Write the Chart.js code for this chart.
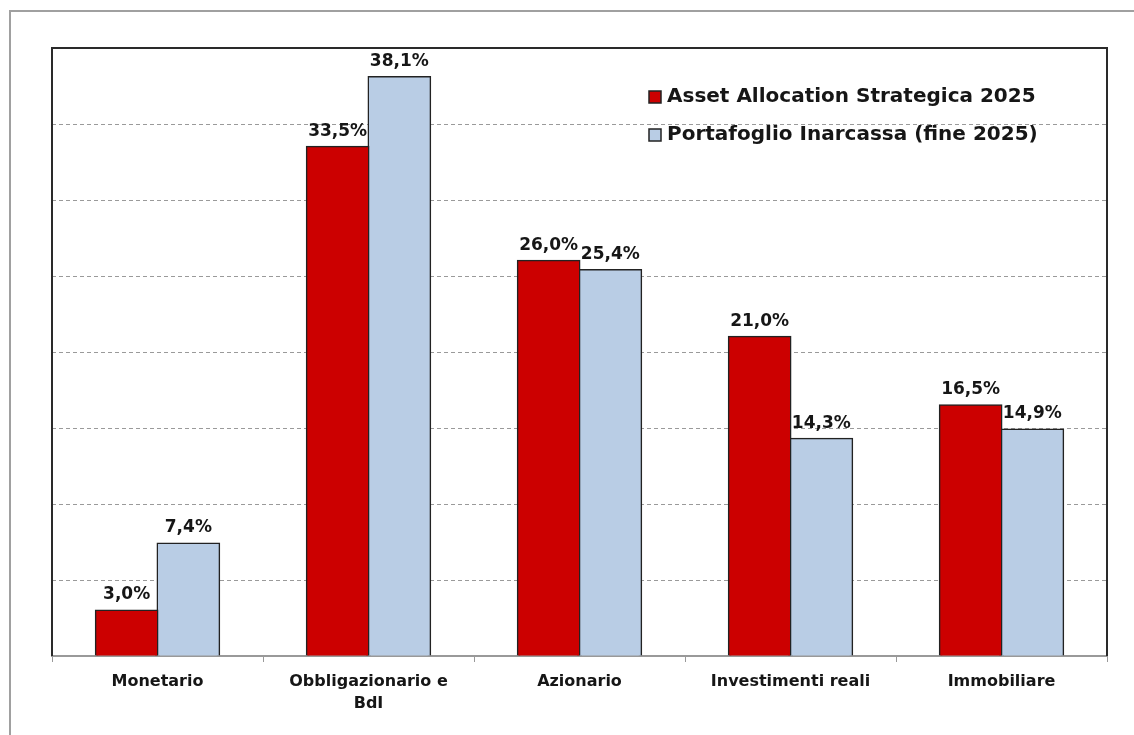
<!DOCTYPE html>
<html>
<head>
<meta charset="utf-8">
<script src="https://cdn.jsdelivr.net/npm/chart.js@4/dist/chart.umd.min.js"></script>
<style>
  html, body { margin: 0; padding: 0; background: #fff; overflow: hidden; }
  #wrap { position: relative; width: 1134px; height: 735px; }
  #frame { position: absolute; left: 9px; top: 10px; width: 1140px; height: 740px; border: 2px solid #a0a0a0; box-sizing: border-box; }
  #chart { position: absolute; left: 0; top: 0; }
</style>
</head>
<body>
<div id="wrap">
  <div id="frame"></div>
  <canvas id="chart" width="1134" height="735"></canvas>
</div>
<script>
const categories = ['Monetario', ['Obbligazionario e', 'BdI'], 'Azionario', 'Investimenti reali', 'Immobiliare'];
const strategica = [3.0, 33.5, 26.0, 21.0, 16.5];
const portafoglio = [7.4, 38.1, 25.4, 14.3, 14.9];
const seriesNames = ['Asset Allocation Strategica 2025', 'Portafoglio Inarcassa (fine 2025)'];
const yTicks = [0, 5, 10, 15, 20, 25, 30, 35, 40];

const FONT = '"DejaVu Sans", Verdana, sans-serif';
const TEXT = '#161616';

// data labels above each bar, comma decimal
const valueLabels = {
    id: 'valueLabels',
    afterDatasetsDraw(chart) {
        const ctx = chart.ctx;
        ctx.save();
        ctx.font = 'bold 17px ' + FONT;
        ctx.fillStyle = TEXT;
        ctx.textAlign = 'center';
        ctx.textBaseline = 'bottom';
        chart.data.datasets.forEach((ds, i) => {
            chart.getDatasetMeta(i).data.forEach((bar, j) => {
                const txt = ds.data[j].toFixed(1).replace('.', ',') + '%';
                ctx.fillText(txt, bar.x, bar.y - 7);
            });
        });
        ctx.restore();
    }
};

// black frame on top/left/right of plot area
const plotFrame = {
    id: 'plotFrame',
    afterDraw(chart) {
        const a = chart.chartArea;
        const ctx = chart.ctx;
        ctx.save();
        ctx.strokeStyle = '#2a2a2a';
        ctx.lineWidth = 2;
        ctx.beginPath();
        ctx.moveTo(a.left, a.bottom);
        ctx.lineTo(a.left, a.top);
        ctx.lineTo(a.right, a.top);
        ctx.lineTo(a.right, a.bottom);
        ctx.stroke();
        ctx.restore();
    }
};

// legend drawn inside the plot area, top right
const innerLegend = {
    id: 'innerLegend',
    afterDraw(chart) {
        const a = chart.chartArea;
        const ctx = chart.ctx;
        const x0 = a.right - 458;
        const rows = [a.top + 49, a.top + 87];
        ctx.save();
        ctx.font = 'bold 20px ' + FONT;
        ctx.textBaseline = 'middle';
        chart.data.datasets.forEach((ds, i) => {
            const y = rows[i];
            ctx.fillStyle = ds.backgroundColor;
            ctx.fillRect(x0, y - 6, 12, 12);
            ctx.strokeStyle = '#222';
            ctx.lineWidth = 1.5;
            ctx.strokeRect(x0, y - 6, 12, 12);
            ctx.fillStyle = TEXT;
            ctx.fillText(ds.label, x0 + 18, y);
        });
        ctx.restore();
    }
};

const ctx = document.getElementById('chart').getContext('2d');
new Chart(ctx, {
    type: 'bar',
    data: {
        labels: categories,
        datasets: [{
            label: seriesNames[0],
            data: strategica,
            backgroundColor: '#CC0000',
            borderColor: '#222',
            borderWidth: 1.5,
            inflateAmount: 1,
            categoryPercentage: 0.585,
            barPercentage: 1.0
        }, {
            label: seriesNames[1],
            data: portafoglio,
            backgroundColor: '#B9CDE5',
            borderColor: '#222',
            borderWidth: 1.5,
            inflateAmount: 1,
            categoryPercentage: 0.585,
            barPercentage: 1.0
        }]
    },
    options: {
        responsive: false,
        animation: false,
        layout: { padding: { left: 52, top: 48, right: 27, bottom: 0 } },
        plugins: {
            legend: { display: false },
            tooltip: { enabled: false }
        },
        scales: {
            y: {
                min: yTicks[0],
                max: yTicks[yTicks.length - 1],
                afterBuildTicks: (scale) => { scale.ticks = yTicks.map(v => ({ value: v })); },
                afterFit: (scale) => { scale.width = 0; },
                ticks: { display: false },
                grid: { color: '#9a9a9a', lineWidth: 1, drawTicks: false },
                border: { display: false, dash: [4, 3] }
            },
            x: {
                afterFit: (scale) => { scale.height = 79; },
                grid: { drawOnChartArea: false, color: '#999', tickLength: 6, offset: true },
                border: { color: '#999', width: 2 },
                ticks: {
                    color: TEXT,
                    padding: 9,
                    maxRotation: 0,
                    font: { family: FONT, weight: 'bold', size: 16, lineHeight: 1.35 }
                }
            }
        }
    },
    plugins: [valueLabels, plotFrame, innerLegend]
});
</script>
</body>
</html>
